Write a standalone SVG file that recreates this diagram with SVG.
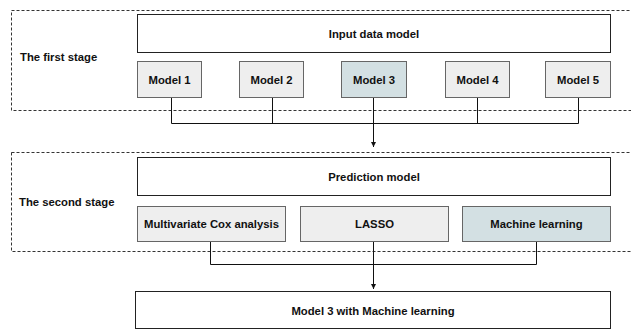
<svg xmlns="http://www.w3.org/2000/svg" width="631" height="331" viewBox="0 0 631 331">
<defs>
<style>
.stage{fill:none;stroke:#333;stroke-width:1;stroke-dasharray:3,2}
.big{fill:#fff;stroke:#222;stroke-width:1}
.sub{fill:#eeeeee;stroke:#666;stroke-width:1}
.hl{fill:#d3e0e3;stroke:#666;stroke-width:1}
text{font-family:"Liberation Sans",Arial,sans-serif;font-weight:bold;font-size:11.3px;fill:#111;text-anchor:middle;dominant-baseline:central}
.lbl{text-anchor:start}
.conn{fill:none;stroke:#111;stroke-width:1}
</style>
<marker id="arr" markerWidth="6" markerHeight="6" refX="5" refY="3" orient="auto" markerUnits="userSpaceOnUse">
<path d="M0,0.5 L5,3 L0,5.5 z" fill="#111"/>
</marker>
</defs>
<rect width="631" height="331" fill="#fff"/>
<g id="stage1"><rect class="stage" x="11.5" y="10.5" width="640" height="100"/><text class="lbl" x="20" y="57">The first stage</text></g>
<g id="stage2"><rect class="stage" x="11.5" y="152.5" width="640" height="99"/><text class="lbl" x="19" y="202">The second stage</text></g>
<g id="connectors">
<polyline class="conn" points="171.5,97 171.5,123.5 578.5,123.5 578.5,97"/>
<line class="conn" x1="272.5" y1="97" x2="272.5" y2="123.5"/>
<line class="conn" x1="477.5" y1="97" x2="477.5" y2="123.5"/>
<line class="conn" x1="373.5" y1="97" x2="373.5" y2="147" marker-end="url(#arr)"/>
<polyline class="conn" points="210.5,241 210.5,264.5 536.5,264.5 536.5,241"/>
<line class="conn" x1="373.5" y1="241" x2="373.5" y2="289" marker-end="url(#arr)"/>
</g>
<g id="input"><rect class="big" x="137.5" y="14.5" width="473" height="38"/><text x="374" y="33.5">Input data model</text></g>
<g id="m1"><rect class="sub" x="137.5" y="61.5" width="64" height="36"/><text x="169.5" y="79.5">Model 1</text></g>
<g id="m2"><rect class="sub" x="239.5" y="61.5" width="64" height="36"/><text x="271.5" y="79.5">Model 2</text></g>
<g id="m3"><rect class="hl" x="341.5" y="61.5" width="65" height="36"/><text x="374" y="79.5">Model 3</text></g>
<g id="m4"><rect class="sub" x="445.5" y="61.5" width="64" height="36"/><text x="477.5" y="79.5">Model 4</text></g>
<g id="m5"><rect class="sub" x="545.5" y="61.5" width="65" height="36"/><text x="578" y="79.5">Model 5</text></g>
<g id="pred"><rect class="big" x="137.5" y="157.5" width="473" height="38"/><text x="374" y="177">Prediction model</text></g>
<g id="cox"><rect class="sub" x="137.5" y="206.5" width="148" height="35"/><text x="211.5" y="224">Multivariate Cox analysis</text></g>
<g id="lasso"><rect class="sub" x="300.5" y="206.5" width="148" height="35"/><text x="374.5" y="224">LASSO</text></g>
<g id="ml"><rect class="hl" x="462.5" y="206.5" width="148" height="35"/><text x="536.5" y="224">Machine learning</text></g>
<g id="final"><rect class="big" x="135.5" y="291.5" width="475" height="37"/><text x="373" y="310.5">Model 3 with Machine learning</text></g>
</svg>
